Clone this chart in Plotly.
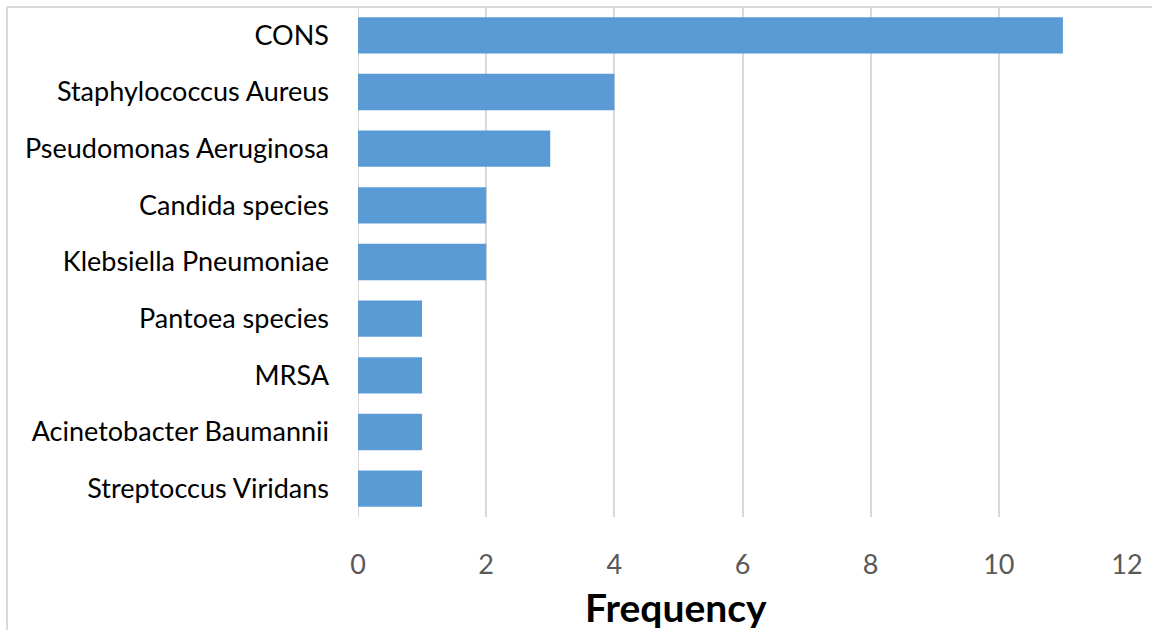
import plotly.graph_objects as go

categories = ["CONS", "Staphylococcus Aureus", "Pseudomonas Aeruginosa", "Candida species",
              "Klebsiella Pneumoniae", "Pantoea species", "MRSA", "Acinetobacter Baumannii",
              "Streptoccus Viridans"]
frequency = [11, 4, 3, 2, 2, 1, 1, 1, 1]
x_ticks = [0, 2, 4, 6, 8, 10, 12]

W, H = 1152, 630
L, R, T, B = 358, 25, 7, 113
pw, ph = W - L - R, H - T - B

def px_x(p):
    return (p - L) / pw

def px_y(p):
    return (H - B - p) / ph

fig = go.Figure(go.Bar(
    y=categories, x=frequency, orientation="h",
    marker=dict(color="#5B9BD5", line=dict(width=0)),
    width=0.64,
))

fig.update_layout(
    width=W, height=H,
    margin=dict(l=L, r=R, t=T, b=B, pad=0),
    paper_bgcolor="white", plot_bgcolor="white",
    showlegend=False,
    font=dict(family="Lato, Carlito, Calibri, sans-serif"),
)
fig.update_xaxes(
    range=[0, 12], tickvals=x_ticks, showgrid=True, gridcolor="#D9D9D9", gridwidth=2,
    zeroline=False, showline=False, ticks="",
    tickfont=dict(size=27, color="#595959"), ticklabelstandoff=29,
)
fig.update_yaxes(
    categoryorder="array", categoryarray=categories[::-1],
    showgrid=False, zeroline=False, showline=False, ticks="",
    tickfont=dict(size=27, color="#000000"), ticklabelstandoff=28,
)
fig.add_annotation(
    text="<b>Frequency</b>", x=px_x(676), y=px_y(607), xref="paper", yref="paper",
    showarrow=False, font=dict(size=39, color="#000000"), xanchor="center", yanchor="middle",
)
# outer frame (top and left edges visible)
fig.add_shape(type="line", xref="paper", yref="paper",
              x0=px_x(7), x1=px_x(1160), y0=px_y(7), y1=px_y(7),
              line=dict(color="#D9D9D9", width=2))
fig.add_shape(type="line", xref="paper", yref="paper",
              x0=px_x(7), x1=px_x(7), y0=px_y(7), y1=px_y(640),
              line=dict(color="#D9D9D9", width=2))
# zero axis line
fig.add_shape(type="line", xref="x", yref="paper", x0=0, x1=0, y0=0, y1=1,
              line=dict(color="#D9D9D9", width=2), layer="below")

fig.write_html("out.html", config={"displayModeBar": False},
               post_script="document.body.style.margin='0';")
